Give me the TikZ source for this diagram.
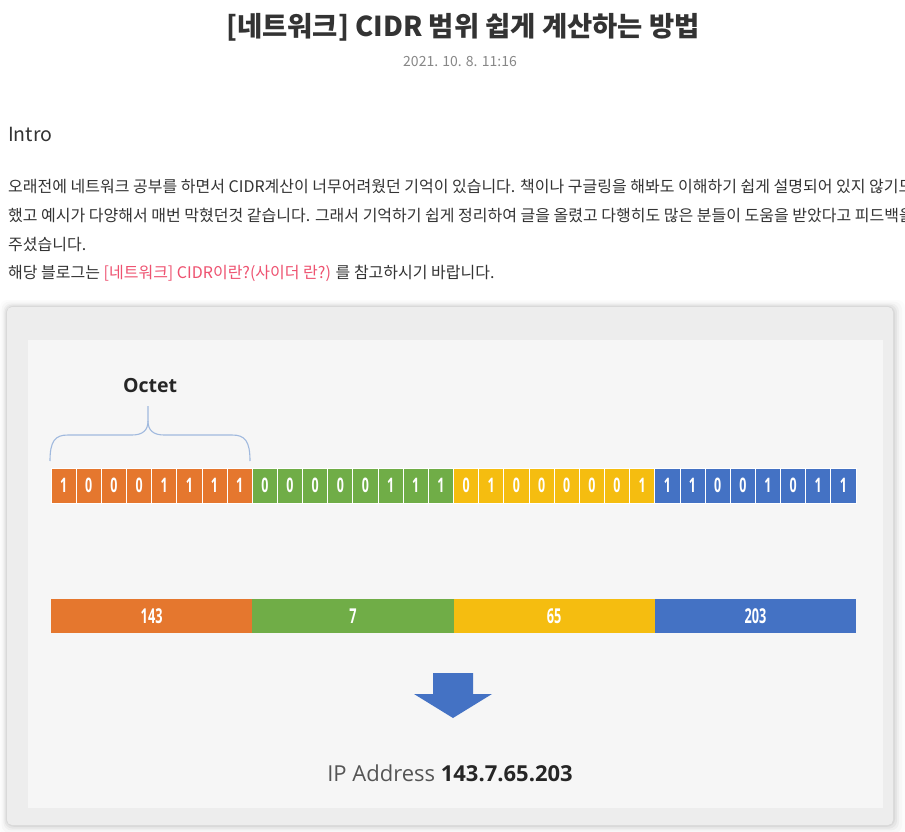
\documentclass[tikz,border=0pt]{standalone}
\usepackage{fontspec}
\usepackage{graphicx}
\setmainfont{Noto Sans CJK KR}
\newfontfamily\krfont{Noto Sans CJK KR}
\newfontfamily\diagfont{Open Sans}
\usepackage{xcolor}
\definecolor{darktext}{rgb}{0.2,0.2,0.2}
\definecolor{datetext}{rgb}{0.53,0.53,0.53}
\definecolor{linkpink}{RGB}{238,82,112}
\definecolor{framegrey}{RGB}{237,237,237}
\definecolor{panelgrey}{RGB}{246,246,246}
\definecolor{bracecol}{RGB}{160,185,222}
\definecolor{iporange}{RGB}{229,119,46}
\definecolor{ipgreen}{RGB}{112,173,71}
\definecolor{ipyellow}{RGB}{245,189,16}
\definecolor{ipblue}{RGB}{68,114,196}
\definecolor{ipgrey}{RGB}{85,85,85}
\usetikzlibrary{calc}
\newcommand\narrowdigits[1]{\scalebox{0.62}[1]{#1}}
\tikzset{
  bodytext/.style={anchor=west, inner sep=0pt, text=darktext,
    font=\krfont\fontsize{16}{19}\selectfont},
  bitcell/.style={minimum width=25.16pt, minimum height=35pt, inner sep=0pt,
    draw=white, line width=0.8pt, text=white,
    font=\diagfont\bfseries\fontsize{20}{22}\selectfont},
  octbox/.style={minimum width=201.25pt, minimum height=34pt, inner sep=0pt,
    text=white, font=\diagfont\bfseries\fontsize{20.5}{22}\selectfont},
}

\begin{document}
\begin{tikzpicture}
    [x=1pt, y=-1pt]
    \useasboundingbox (0,0) rectangle (905,832);
    \clip (0,0) rectangle (905,832);
    \fill[white] (0,0) rectangle (905,832);
    % heading
    \node[text=darktext, font=\krfont\bfseries\fontsize{27.4}{31}\selectfont]
        (title) at (463,27) {[네트워크] CIDR 범위 쉽게 계산하는 방법};
    \node[text=datetext, font=\krfont\fontsize{14}{16}\selectfont]
        (date) at (460,62) {2021. 10. 8. 11:16};
    \node[bodytext, font=\krfont\fontsize{19.5}{24}\selectfont]
        (intro) at (8,134) {Intro};
    % paragraph
    \node[bodytext] (line1) at (8,187)
        {오래전에 네트워크 공부를 하면서 CIDR계산이 너무어려웠던 기억이 있습니다. 책이나 구글링을 해봐도 이해하기 쉽게 설명되어 있지 않기도};
    \node[bodytext] (line2) at (8,216)
        {했고 예시가 다양해서 매번 막혔던것 같습니다. 그래서 기억하기 쉽게 정리하여 글을 올렸고 다행히도 많은 분들이 도움을 받았다고 피드백을};
    \node[bodytext] (line3) at (8,245) {주셨습니다.};
    \node[bodytext] (line4) at (8,273)
        {해당 블로그는 {\color{linkpink}[네트워크] CIDR이란?(사이더 란?)} 를 참고하시기 바랍니다.};
    % framed image
    \foreach \s/\o in {12/0.012,9/0.02,6/0.03,4/0.04,2/0.05}
        \fill[black, opacity=\o, rounded corners=8pt]
            (7-\s*0.6,307-\s*0.6) rectangle (893+\s,825+\s*0.9);
    \fill[framegrey, rounded corners=5pt] (7,307) rectangle (893,825);
    \fill[panelgrey] (28,340) rectangle (883,808);
    % octet brace
    \node[font=\diagfont\bfseries\fontsize{19.5}{22}\selectfont, text=black!85]
        (octet) at (150,386) {Octet};
    \draw[bracecol, line width=1.1pt]
        (50,461) .. controls (50,441) and (55,435) .. (68,435) --
        (132,435) .. controls (143,435) and (148,430) .. (148,421) --
        (148,406);
    \draw[bracecol, line width=1.1pt]
        (148,421) .. controls (148,430) and (153,435) .. (164,435) --
        (232,435) .. controls (245,435) and (250,441) .. (250,461);
    % bit row
    \foreach \col/\bits [count=\i from 0] in
        {iporange/{1,0,0,0,1,1,1,1}, ipgreen/{0,0,0,0,0,1,1,1},
         ipyellow/{0,1,0,0,0,0,0,1}, ipblue/{1,1,0,0,1,0,1,1}}
        \foreach \b [count=\j from 0] in \bits
            \node[bitcell, fill=\col] (bit-\i-\j)
                at ({51+(\i*8+\j+0.5)*25.156},485.5) {\narrowdigits{\b}};
    % decimal row
    \foreach \col/\val [count=\i from 0] in
        {iporange/143, ipgreen/7, ipyellow/65, ipblue/203}
        \node[octbox, fill=\col] (dec-\i)
            at ({51+(\i+0.5)*201.25},616) {\narrowdigits{\val}};
    % arrow
    \fill[ipblue]
        (433,673)--
        (473,673)--
        (473,694)--
        (492,694)--
        (453,718)--
        (414,694)--
        (433,694)--cycle;
    % text
    \node[font=\diagfont\fontsize{22}{26}\selectfont] (ipaddr) at (450,773)
        {{\color{ipgrey}IP Address} {\bfseries\color{black!85}143.7.65.203}};
\end{tikzpicture}
\end{document}
